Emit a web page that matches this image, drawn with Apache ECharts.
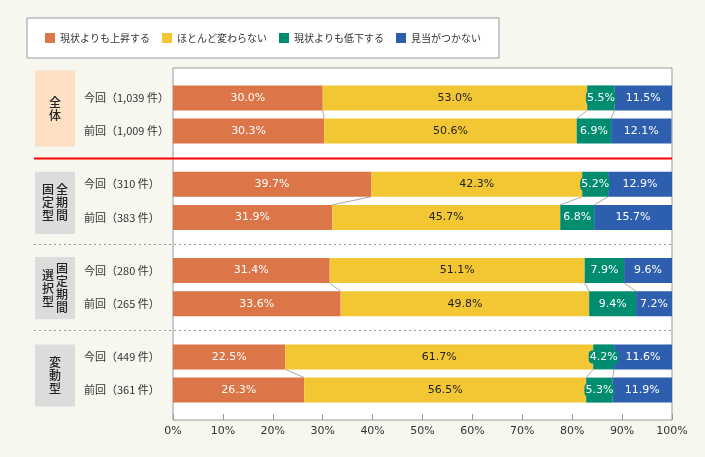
<!DOCTYPE html>
<html>
<head>
<meta charset="utf-8">
<script src="https://cdn.jsdelivr.net/npm/echarts@6/dist/echarts.min.js"></script>
<style>
  html, body { margin: 0; padding: 0; background: #f7f6ef; }
  #chart { width: 705px; height: 457px; }
</style>
</head>
<body>
<div id="chart"></div>
<script>
// data
var seriesNames = ['現状よりも上昇する', 'ほとんど変わらない', '現状よりも低下する', '見当がつかない'];
var rowLabels = ['今回（1,039 件）', '前回（1,009 件）', '今回（310 件）', '前回（383 件）',
                 '今回（280 件）', '前回（265 件）', '今回（449 件）', '前回（361 件）'];
var rising  = [30.0, 30.3, 39.7, 31.9, 31.4, 33.6, 22.5, 26.3];
var same    = [53.0, 50.6, 42.3, 45.7, 51.1, 49.8, 61.7, 56.5];
var falling = [5.5, 6.9, 5.2, 6.8, 7.9, 9.4, 4.2, 5.3];
var unknown = [11.5, 12.1, 12.9, 15.7, 9.6, 7.2, 11.6, 11.9];
// group names, written as vertical columns (right column first)
var groupColumns = [['全体'], ['全期間', '固定型'], ['固定期間', '選択型'], ['変動型']];
var groupFill = ['#fde0c3', '#dcdcdc', '#dcdcdc', '#dcdcdc'];

// layout: the y axis is split into small slots so the gaps between groups can differ
var SLOTS = 53;
var rowSlot = [4, 9, 17, 22, 30, 35, 43, 48];
var sepSlot = [13, 26, 39];
var BAR = 25;
var myColor = ['#dc7548', '#f3c733', '#008c6e', '#2e5fae'];

var cats = [];
for (var i = 0; i < SLOTS; i++) cats.push('');
rowLabels.forEach(function (l, i) { cats[rowSlot[i]] = l; });

function spread(vals) {
  var arr = [];
  for (var i = 0; i < SLOTS; i++) arr.push('-');
  vals.forEach(function (v, i) { arr[rowSlot[i]] = v; });
  return arr;
}

var allVals = [rising, same, falling, unknown];

// connector lines between 今回 and 前回 bars at each segment boundary
var connData = [];
for (var g = 0; g < 4; g++) {
  var a = 2 * g, b = 2 * g + 1;
  var ca = 0, cb = 0;
  for (var s = 0; s < 3; s++) {
    ca += allVals[s][a];
    cb += allVals[s][b];
    connData.push([ca, cb, rowSlot[a], rowSlot[b]]);
  }
}

var series = allVals.map(function (vals, k) {
  var lbl = {
    show: true,
    position: 'inside',
    fontFamily: 'DejaVu Sans',
    fontSize: 11,
    color: k == 1 ? '#222' : '#fff',
    formatter: function (p) { return p.value.toFixed(1) + '%'; }
  };
  if (k == 2) {
    lbl.backgroundColor = myColor[2];
    lbl.padding = [1, 1];
    lbl.borderRadius = 4;
  }
  return {
    name: seriesNames[k],
    type: 'bar',
    stack: 'all',
    barWidth: BAR,
    data: spread(vals),
    itemStyle: { color: myColor[k] },
    label: lbl,
    emphasis: { disabled: true }
  };
});

series.push({
  type: 'custom',
  data: connData,
  encode: { x: [0, 1], y: [2, 3] },
  silent: true,
  z: 1,
  renderItem: function (params, api) {
    var p1 = api.coord([api.value(0), api.value(2)]);
    var p2 = api.coord([api.value(1), api.value(3)]);
    return {
      type: 'line',
      shape: { x1: p1[0], y1: p1[1] + BAR / 2, x2: p2[0], y2: p2[1] - BAR / 2 },
      style: { stroke: '#aaaaaa', lineWidth: 1 }
    };
  }
});

var option = {
  backgroundColor: '#f7f6ef',
  animation: false,
  textStyle: { fontFamily: 'Noto Sans CJK JP' },
  legend: {
    data: seriesNames,
    left: 27,
    top: 18,
    padding: [15, 18],
    backgroundColor: '#fff',
    borderColor: '#999',
    borderWidth: 1,
    itemWidth: 10,
    itemHeight: 10,
    itemGap: 12,
    icon: 'rect',
    textStyle: { fontSize: 10, color: '#333', fontFamily: 'Noto Sans CJK JP' }
  },
  grid: {
    left: 173,
    right: 33,
    top: 68,
    bottom: 37,
    show: true,
    backgroundColor: '#fff',
    borderColor: '#999',
    borderWidth: 1
  },
  xAxis: {
    type: 'value',
    min: 0,
    max: 100,
    interval: 10,
    axisLine: { show: false },
    axisTick: { show: true, inside: true, length: 6, lineStyle: { color: '#999' } },
    splitLine: { show: false },
    axisLabel: {
      formatter: '{value}%',
      color: '#333',
      fontSize: 11,
      fontFamily: 'DejaVu Sans',
      margin: 6
    }
  },
  yAxis: {
    type: 'category',
    inverse: true,
    data: cats,
    axisLine: { show: false },
    axisTick: { show: false },
    axisLabel: {
      interval: 0,
      align: 'left',
      margin: 89,
      color: '#333',
      fontSize: 11,
      fontFamily: 'Noto Sans CJK JP'
    }
  },
  series: series
};

const chart = echarts.init(document.getElementById('chart'));
chart.setOption(option);

// group boxes, vertical group names and separator lines
function buildGraphics() {
  var boxPad = [[15, 3], [0, 4], [1, 3], [0, 4]];
  var out = [];
  function yOf(slot) { return chart.convertToPixel({ yAxisIndex: 0 }, slot); }
  var xRight = chart.convertToPixel({ xAxisIndex: 0 }, 100);

  for (var g = 0; g < 4; g++) {
    var y0 = yOf(rowSlot[2 * g]) - BAR / 2 - boxPad[g][0];
    var y1 = yOf(rowSlot[2 * g + 1]) + BAR / 2 + boxPad[g][1];
    out.push({
      type: 'rect',
      shape: { x: 35, y: y0, width: 40, height: y1 - y0 },
      style: { fill: groupFill[g] }
    });
    var cols = groupColumns[g];
    var cx = cols.length == 1 ? [55] : [62, 48];
    for (var c = 0; c < cols.length; c++) {
      out.push({
        type: 'text',
        x: cx[c],
        y: (y0 + y1) / 2,
        style: {
          text: cols[c].split('').join('\n'),
          fontSize: 12,
          lineHeight: 13,
          fontWeight: 500,
          fontFamily: 'Noto Sans CJK JP',
          fill: '#222',
          align: 'center',
          verticalAlign: 'middle'
        }
      });
    }
  }

  for (var i = 0; i < sepSlot.length; i++) {
    var y = Math.round(yOf(sepSlot[i])) + 0.5;
    out.push({
      type: 'line',
      z: 100,
      shape: { x1: 34, y1: y, x2: xRight, y2: y },
      style: i == 0 ? { stroke: '#ff0000', lineWidth: 2 }
                    : { stroke: '#999', lineWidth: 1, lineDash: [2, 3] }
    });
  }
  return out;
}

chart.setOption({ graphic: buildGraphics() });
</script>
</body>
</html>
